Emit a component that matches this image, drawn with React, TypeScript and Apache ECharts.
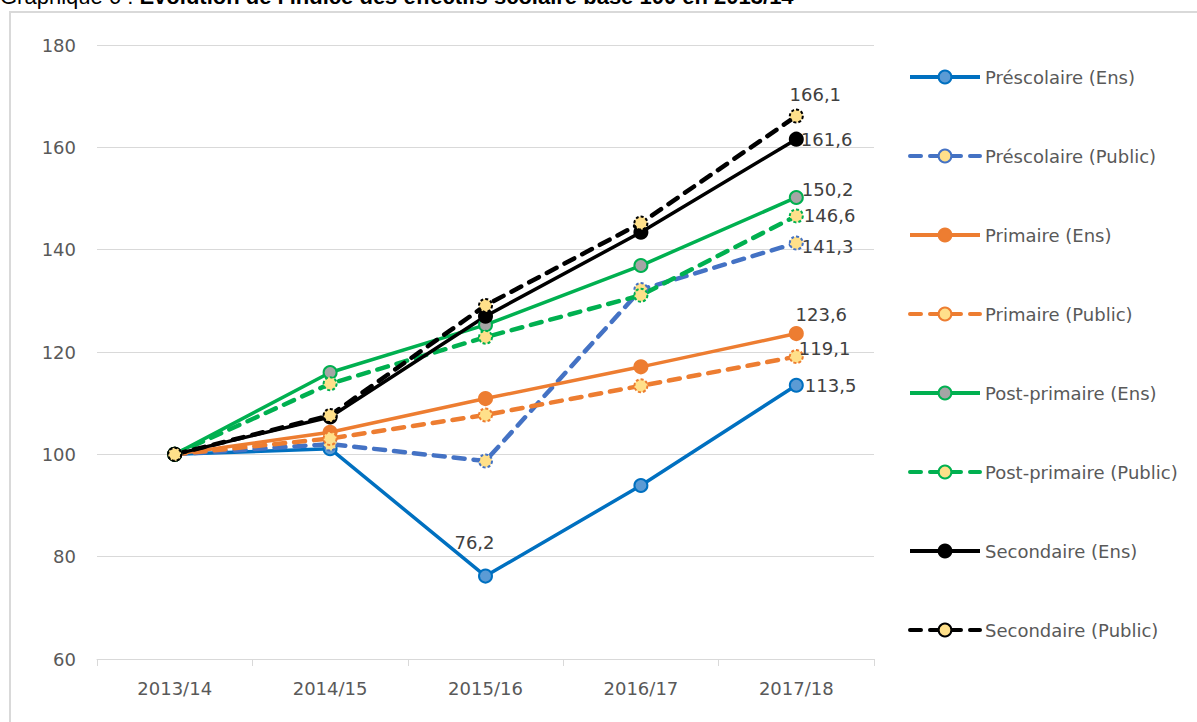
import React, { useEffect, useRef } from "react";
import * as echarts from "echarts";

const categories = ["2013/14", "2014/15", "2015/16", "2016/17", "2017/18"];
const seriesNames = [
  "Préscolaire (Ens)",
  "Préscolaire (Public)",
  "Primaire (Ens)",
  "Primaire (Public)",
  "Post-primaire (Ens)",
  "Post-primaire (Public)",
  "Secondaire (Ens)",
  "Secondaire (Public)",
];
const prescolaireEns = [100, 101.1, 76.2, 93.9, 113.5];
const prescolairePublic = [100, 102.0, 98.7, 132.2, 141.3];
const primaireEns = [100, 104.3, 110.9, 117.1, 123.6];
const primairePublic = [100, 103.1, 107.7, 113.4, 119.1];
const postPrimaireEns = [100, 116.0, 125.3, 136.9, 150.2];
const postPrimairePublic = [100, 113.8, 122.9, 131.1, 146.6];
const secondaireEns = [100, 107.3, 127.0, 143.4, 161.6];
const secondairePublic = [100, 107.6, 129.1, 145.2, 166.1];
const yTicks = { min: 60, max: 180, interval: 20 };

const FONT = "DejaVu Sans";
const YELLOW = "#FFE08A";

const fmt = (v: number) => v.toFixed(1).replace(".", ",");

type LabelSpec = { index: number; position: string; offset: number[] };

function buildData(values: number[], labels: LabelSpec[]) {
  return values.map((v, i) => {
    const l = labels.find((x) => x.index === i);
    if (!l) return { value: v };
    return {
      value: v,
      label: {
        show: true,
        position: l.position,
        offset: l.offset,
        formatter: (p: any) => fmt(p.value),
        color: "#404040",
        fontSize: 18,
        fontFamily: FONT,
      },
    };
  });
}

function makeSeries(
  name: string,
  values: number[],
  color: string,
  dashed: boolean,
  fill: string,
  width: number,
  labels: LabelSpec[]
) {
  return {
    name,
    type: "line",
    data: buildData(values, labels),
    symbol: "circle",
    symbolSize: 13,
    lineStyle: {
      color,
      width,
      type: dashed ? [11, 9] : "solid",
      cap: dashed ? "round" : "butt",
    },
    itemStyle: {
      color: fill,
      borderColor: color,
      borderWidth: 2,
      borderType: dashed ? [3, 2] : "solid",
    },
    emphasis: { disabled: true },
  };
}

export default function App() {
  const ref = useRef<HTMLDivElement>(null);
  useEffect(() => {
    if (!ref.current) return;
    const chart = echarts.init(ref.current, undefined, { renderer: "svg" });
    const series = [
      makeSeries(seriesNames[0], prescolaireEns, "#0070C0", false, "#5B9BD5", 3.5, [
        { index: 2, position: "top", offset: [-11, -12] },
        { index: 4, position: "right", offset: [-4, 0] },
      ]),
      makeSeries(seriesNames[1], prescolairePublic, "#4472C4", true, YELLOW, 4.5, [
        { index: 4, position: "right", offset: [-7, 3] },
      ]),
      makeSeries(seriesNames[2], primaireEns, "#ED7D31", false, "#ED7D31", 3.5, [
        { index: 4, position: "top", offset: [25, 2] },
      ]),
      makeSeries(seriesNames[3], primairePublic, "#ED7D31", true, YELLOW, 4.5, [
        { index: 4, position: "right", offset: [-10, -8] },
      ]),
      makeSeries(seriesNames[4], postPrimaireEns, "#00B050", false, "#A5A5A5", 3.5, [
        { index: 4, position: "right", offset: [-7, -8] },
      ]),
      makeSeries(seriesNames[5], postPrimairePublic, "#00B050", true, YELLOW, 4.5, [
        { index: 4, position: "right", offset: [-5, 0] },
      ]),
      makeSeries(seriesNames[6], secondaireEns, "#000000", false, "#000000", 3.5, [
        { index: 4, position: "right", offset: [-8, 0] },
      ]),
      makeSeries(seriesNames[7], secondairePublic, "#000000", true, YELLOW, 4.5, [
        { index: 4, position: "top", offset: [19, 0] },
      ]),
    ];
    chart.setOption({
      animation: false,
      backgroundColor: "#ffffff",
      graphic: [
        {
          type: "rect",
          z: -1,
          shape: { x: 10, y: 12, width: 1200, height: 720 },
          style: { fill: "#ffffff", stroke: "#d9d9d9", lineWidth: 2 },
          silent: true,
        },
        {
          type: "text",
          x: 0,
          y: -15,
          style: {
            text: "{a|Graphique 6 : }{b|Evolution de l’indice des effectifs scolaire base 100 en 2013/14}",
            rich: {
              a: { fontFamily: "Liberation Sans", fontSize: 22, fontWeight: "normal", fill: "#000" },
              b: { fontFamily: "Liberation Sans", fontSize: 22, fontWeight: "bold", fill: "#000" },
            },
            verticalAlign: "top",
          },
          silent: true,
        },
      ],
      grid: { left: 97, top: 45, width: 777, height: 614, containLabel: false },
      xAxis: {
        type: "category",
        data: categories,
        boundaryGap: true,
        axisLine: { lineStyle: { color: "#d9d9d9", width: 1 } },
        axisTick: { show: true, length: 7, lineStyle: { color: "#d9d9d9" } },
        axisLabel: { color: "#595959", fontSize: 18, fontFamily: FONT, margin: 20 },
      },
      yAxis: {
        type: "value",
        min: yTicks.min,
        max: yTicks.max,
        interval: yTicks.interval,
        axisLine: { show: false },
        axisTick: { show: false },
        axisLabel: { color: "#595959", fontSize: 18, fontFamily: FONT, margin: 21 },
        splitLine: { lineStyle: { color: "#d9d9d9", width: 1 } },
      },
      legend: {
        orient: "vertical",
        left: 908,
        top: 68,
        padding: 0,
        itemWidth: 70,
        itemHeight: 16,
        itemGap: 61,
        data: seriesNames,
        lineStyle: { width: 4 },
        textStyle: { color: "#595959", fontSize: 18, fontFamily: FONT },
      },
      series,
    });
    return () => chart.dispose();
  }, []);
  return (
    <div
      ref={ref}
      style={{ position: "absolute", left: 0, top: 0, width: 1197, height: 722 }}
    />
  );
}
